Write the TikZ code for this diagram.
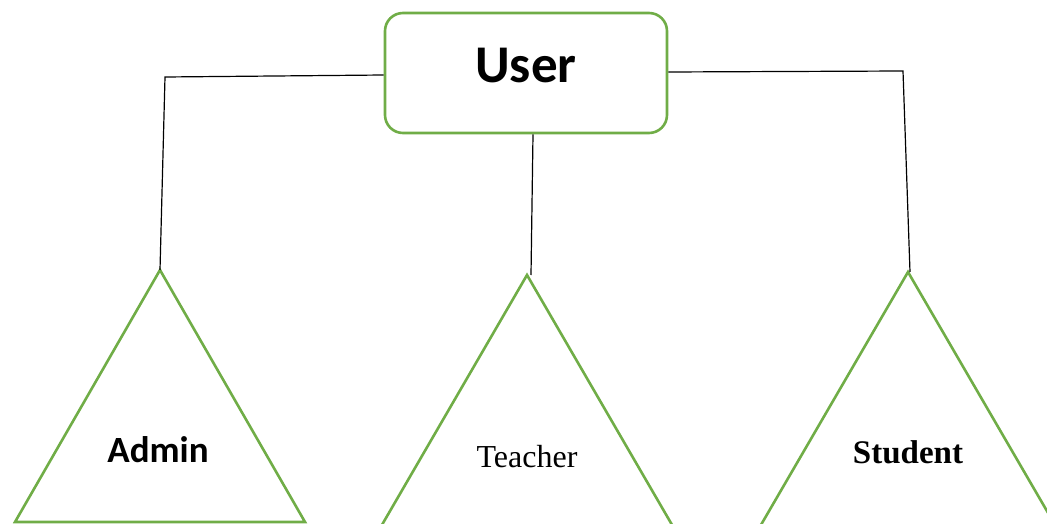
\documentclass[tikz,border=0pt]{standalone}
\usepackage{fontspec}
\setmainfont{Liberation Serif}
\newfontfamily\calibri{Carlito}
\usepackage{xcolor}
\usetikzlibrary{positioning}
\definecolor{officegreen}{HTML}{70AD47}

\begin{document}
\begin{tikzpicture}[x=1pt,y=-1pt]

% =========================
% Styles
% =========================
\tikzset{
    rolebox/.style={draw=officegreen, line width=2.6pt, rounded corners=18pt,
        minimum width=282pt, minimum height=120pt, inner sep=0pt},
    roletri/.style={draw=officegreen, line width=2.6pt, line join=miter},
    link/.style={draw=black, line width=1.2pt},
    rolename/.style={anchor=base, inner sep=0pt}
}

\useasboundingbox (0,0) rectangle (1047,524);

% =========================
% Parent entity
% =========================
\node[rolebox, text height=34pt, text depth=14pt,
      font=\calibri\bfseries\fontsize{53}{60}\selectfont] (user) at (526,73) {User};

% =========================
% Apexes and bends of the links
% =========================
\coordinate (adminTop)   at (160,270);
\coordinate (teacherTop) at (527,275);
\coordinate (studentTop) at (908,272);
\coordinate (leftBend)   at (165,77);
\coordinate (rightBend)  at (903,71);
\coordinate (midFoot)    at (531,275);
\coordinate (rightFoot)  at (910,272);

% =========================
% Child entities (triangles)
% =========================
\draw[roletri] (adminTop) -- (15,522) -- (305,522) -- cycle;
\draw[roletri] (teacherTop) -- (379,530) -- (675,530) -- cycle;
\draw[roletri] (studentTop) -- (758,530) -- (1058,530) -- cycle;

\node[rolename, font=\calibri\bfseries\fontsize{37}{42}\selectfont] (admin) at (158,462) {Admin};
\node[rolename, font=\fontsize{32}{36}\selectfont] (teacher) at (527,467) {Teacher};
\node[rolename, font=\bfseries\fontsize{33}{37}\selectfont] (student) at (908,463) {Student};

% =========================
% Links
% =========================
\draw[link] ([yshift=-2pt]user.west) -- (leftBend) -- (adminTop);
\draw[link] ([xshift=7pt]user.south) -- (midFoot);
\draw[link] ([yshift=1pt]user.east) -- (rightBend) -- (rightFoot);

\end{tikzpicture}
\end{document}
